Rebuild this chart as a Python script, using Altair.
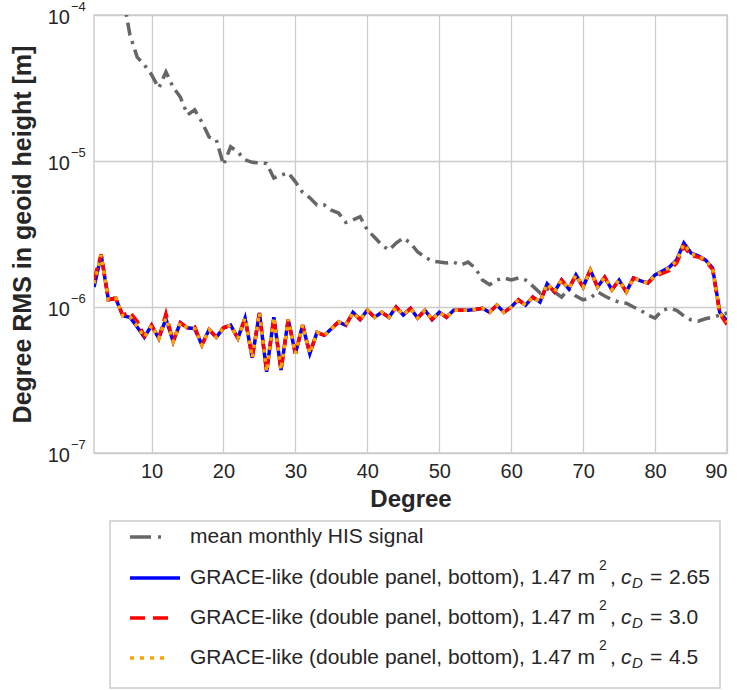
import altair as alt
import pandas as pd

# Spherical-harmonic degrees of the simulated GRACE-like solutions
degrees = list(range(2, 91))

# Degree RMS in geoid height [micrometres], GRACE-like (double panel, bottom), c_D = 2.65
rms_cd_265 = [
    1.37, 2.27, 1.12, 1.15, 0.87, 0.85, 0.73, 0.62, 0.75,
    0.61, 0.83, 0.58, 0.78, 0.72, 0.71, 0.55, 0.70, 0.62, 0.72,
    0.75, 0.61, 0.84, 0.45, 0.91, 0.36, 0.85, 0.37, 0.82, 0.48,
    0.75, 0.48, 0.67, 0.64, 0.71, 0.79, 0.75, 0.92, 0.82, 0.95,
    0.85, 0.92, 0.85, 1.00, 0.88, 0.98, 0.84, 0.95, 0.82, 0.92,
    0.85, 0.95, 0.95, 0.95, 0.96, 0.98, 0.92, 1.03, 0.92, 1.00,
    1.12, 1.03, 1.17, 1.08, 1.44, 1.27, 1.53, 1.33, 1.66, 1.37,
    1.79, 1.37, 1.60, 1.31, 1.53, 1.27, 1.58, 1.51, 1.46, 1.66,
    1.76, 1.88, 2.10, 2.74, 2.34, 2.24, 2.10, 1.85, 0.92, 0.80,
]
# same, c_D = 3.0
rms_cd_30 = [
    1.55, 2.30, 1.12, 1.15, 0.88, 0.92, 0.80, 0.63, 0.75,
    0.61, 0.90, 0.58, 0.78, 0.72, 0.73, 0.55, 0.70, 0.62, 0.72,
    0.75, 0.61, 0.84, 0.45, 0.91, 0.36, 0.85, 0.37, 0.82, 0.48,
    0.75, 0.48, 0.67, 0.64, 0.71, 0.79, 0.75, 0.92, 0.82, 0.95,
    0.85, 0.92, 0.85, 1.00, 0.88, 0.98, 0.84, 0.95, 0.82, 0.92,
    0.85, 0.95, 0.95, 0.95, 0.96, 0.98, 0.92, 1.03, 0.92, 1.00,
    1.12, 1.03, 1.17, 1.08, 1.44, 1.27, 1.53, 1.33, 1.66, 1.37,
    1.79, 1.37, 1.60, 1.31, 1.53, 1.27, 1.58, 1.51, 1.46, 1.62,
    1.70, 1.78, 2.00, 2.60, 2.25, 2.20, 2.08, 1.80, 0.90, 0.76,
]
# same, c_D = 4.5
rms_cd_45 = [
    1.45, 2.27, 1.12, 1.15, 0.87, 0.86, 0.74, 0.62, 0.75,
    0.61, 0.84, 0.58, 0.78, 0.72, 0.71, 0.55, 0.70, 0.62, 0.72,
    0.75, 0.61, 0.84, 0.45, 0.91, 0.36, 0.85, 0.37, 0.82, 0.48,
    0.75, 0.48, 0.67, 0.64, 0.71, 0.79, 0.75, 0.92, 0.82, 0.95,
    0.85, 0.92, 0.85, 1.00, 0.88, 0.98, 0.84, 0.95, 0.82, 0.92,
    0.85, 0.95, 0.95, 0.95, 0.96, 0.98, 0.92, 1.03, 0.92, 1.00,
    1.12, 1.03, 1.17, 1.08, 1.44, 1.27, 1.53, 1.33, 1.66, 1.37,
    1.79, 1.37, 1.60, 1.31, 1.53, 1.27, 1.58, 1.51, 1.46, 1.65,
    1.75, 1.86, 2.08, 2.70, 2.32, 2.23, 2.10, 1.84, 0.91, 0.79,
]

# Mean monthly HIS (hydrology, ice, solid earth) signal [micrometres]
his_degrees = list(range(6, 91))
his_signal = [
    137.0, 73.0, 51.5, 45.5, 39.0, 31.6, 40.7, 32.0, 27.4, 20.7,
    22.4, 18.5, 14.6, 14.0, 9.4, 12.5, 11.5, 10.2, 9.8, 9.7,
    9.6, 7.65, 8.0, 8.3, 7.2, 6.1, 5.6, 5.0, 5.0, 4.6,
    4.4, 3.8, 3.95, 4.15, 3.37, 3.0, 2.66, 2.45, 2.74, 2.97,
    2.74, 2.38, 2.2, 2.06, 2.03, 2.0, 2.03, 1.94, 2.03, 1.85,
    1.53, 1.42, 1.53, 1.58, 1.53, 1.58, 1.53, 1.39, 1.25, 1.33,
    1.27, 1.17, 1.33, 1.19, 1.12, 1.15, 1.27, 1.19, 1.12, 1.08,
    1.06, 1.00, 0.95, 0.88, 0.84, 0.95, 0.98, 0.95, 0.87, 0.815,
    0.80, 0.83, 0.85, 0.88, 0.91,
]

# Axis ticks
x_ticks = [10, 20, 30, 40, 50, 60, 70, 80, 90]
decades = [1e-7, 1e-6, 1e-5, 1e-4]
decade_exponents = ["\u22127", "\u22126", "\u22125", "\u22124"]

# Legend entries
his_label = "mean monthly HIS signal"
grace_label = "GRACE-like (double panel, bottom), 1.47 m"
cd_labels = ["2.65", "3.0", "4.5"]

FONT = "Liberation Sans"
TEXT = "#262626"
GRID = "#cccccc"
W, H = 633, 438
LW = 3.5
GRAY_DASH = [13, 6, 3, 6]
RED_DASH = [12, 6]
DOTS = [3.5, 5.5]


def to_frame(xs, vals, name):
    return pd.DataFrame({"degree": xs, "rms": [v * 1e-6 for v in vals], "series": name})


his_df = to_frame(his_degrees, his_signal, "HIS")
cd265_df = to_frame(degrees, rms_cd_265, "2.65")
cd30_df = to_frame(degrees, rms_cd_30, "3.0")
cd45_df = to_frame(degrees, rms_cd_45, "4.5")

x_enc = alt.X(
    "degree:Q",
    scale=alt.Scale(domain=[2, 90], nice=False, zero=False),
    axis=alt.Axis(
        values=x_ticks, ticks=False, domain=False, grid=True,
        gridColor=GRID, gridWidth=1.3,
        labelFont=FONT, labelFontSize=20, labelColor=TEXT, labelPadding=8,
        title="Degree", titleFont=FONT, titleFontSize=24, titleFontWeight="bold",
        titleColor=TEXT, titlePadding=6,
    ),
)
y_enc = alt.Y(
    "rms:Q",
    scale=alt.Scale(type="log", domain=[1e-7, 1e-4], nice=False),
    axis=alt.Axis(
        values=decades, ticks=False, domain=False, labels=False, grid=True,
        gridColor=GRID, gridWidth=1.3,
        title="Degree RMS in geoid height [m]", titleFont=FONT, titleFontSize=25,
        titleFontWeight="bold", titleColor=TEXT, titlePadding=59,
    ),
)

his_line = alt.Chart(his_df).mark_line(
    clip=True, color="#666666", strokeWidth=LW, strokeDash=GRAY_DASH, strokeCap="butt"
).encode(x=x_enc, y=y_enc)
blue_line = alt.Chart(cd265_df).mark_line(
    clip=True, color="#0000ff", strokeWidth=LW
).encode(x=x_enc, y=y_enc)
red_line = alt.Chart(cd30_df).mark_line(
    clip=True, color="#ff0000", strokeWidth=LW, strokeDash=RED_DASH, strokeCap="butt"
).encode(x=x_enc, y=y_enc)
orange_line = alt.Chart(cd45_df).mark_line(
    clip=True, color="#ffa500", strokeWidth=LW, strokeDash=DOTS, strokeCap="butt"
).encode(x=x_enc, y=y_enc)

# y tick labels written as 10 with a raised exponent
decade_df = pd.DataFrame({"rms": decades, "base": ["10"] * 4, "exp": decade_exponents})
decade_base = alt.Chart(decade_df).mark_text(
    align="right", baseline="middle", font=FONT, fontSize=20, color=TEXT, dy=3
).encode(x=alt.value(-24), y=y_enc, text="base:N")
decade_exp = alt.Chart(decade_df).mark_text(
    align="left", baseline="middle", font=FONT, fontSize=13, color=TEXT, dy=-8
).encode(x=alt.value(-23), y=y_enc, text="exp:N")

# Legend box below the axes
LEG_TOP, LEG_BOTTOM = 506, 673
LEG_LEFT, LEG_RIGHT = 16, 626
row_y = [522, 563, 603, 643]
SYM_X0, SYM_X1 = 36, 86
TEXT_X = 96
ANCHOR = 501
LEG_FS = 21

one = pd.DataFrame({"k": [0]})
legend_layers = [
    alt.Chart(one).mark_rect(fill="white", stroke=GRID, strokeWidth=1.5).encode(
        x=alt.value(LEG_LEFT), x2=alt.value(LEG_RIGHT),
        y=alt.value(LEG_TOP), y2=alt.value(LEG_BOTTOM),
    ),
    alt.Chart(one).mark_rule(
        color="#666666", strokeWidth=LW, strokeDash=[21, 7, 3, 7], strokeCap="butt"
    ).encode(x=alt.value(SYM_X0), x2=alt.value(SYM_X0 + 31), y=alt.value(row_y[0])),
    alt.Chart(pd.DataFrame({"t": [his_label]})).mark_text(
        align="left", baseline="middle", font=FONT, fontSize=LEG_FS, color=TEXT
    ).encode(x=alt.value(TEXT_X), y=alt.value(row_y[0]), text="t:N"),
]

grace_styles = [
    (dict(color="#0000ff"), SYM_X1),
    (dict(color="#ff0000", strokeDash=[15, 8], strokeCap="butt"), SYM_X0 + 38),
    (dict(color="#ffa500", strokeDash=[4, 6], strokeCap="butt"), SYM_X0 + 34),
]
for i, (cd, (style, x_end)) in enumerate(zip(cd_labels, grace_styles)):
    yy = row_y[i + 1]
    legend_layers.append(
        alt.Chart(one).mark_rule(strokeWidth=LW, **style).encode(
            x=alt.value(SYM_X0), x2=alt.value(x_end), y=alt.value(yy)
        )
    )
    pieces = [
        (grace_label, ANCHOR, 0, LEG_FS, "normal", "right"),
        ("2", ANCHOR + 4, -12, 14, "normal", "left"),
        (",", ANCHOR + 15, 0, LEG_FS, "normal", "left"),
        ("c", ANCHOR + 26, 0, LEG_FS, "italic", "left"),
        ("D", ANCHOR + 37, 5, 15, "italic", "left"),
        ("=", ANCHOR + 55, 0, LEG_FS, "normal", "left"),
        (cd, ANCHOR + 74, 0, LEG_FS, "normal", "left"),
    ]
    for txt, xpos, dy, size, style_, align in pieces:
        legend_layers.append(
            alt.Chart(pd.DataFrame({"t": [txt]})).mark_text(
                align=align, baseline="middle", font=FONT, fontSize=size,
                fontStyle=style_, color=TEXT, dy=dy,
            ).encode(x=alt.value(xpos), y=alt.value(yy), text="t:N")
        )

chart = alt.layer(
    his_line, blue_line, red_line, orange_line, decade_base, decade_exp, *legend_layers
).properties(
    width=W, height=H,
    padding={"left": 94, "top": 15, "right": 10, "bottom": 237},
    autosize=alt.AutoSizeParams(type="none"),
    background="white",
).configure_view(stroke=GRID, strokeWidth=1.5)

chart.save("out.html", embed_options={"renderer": "svg", "actions": False})
